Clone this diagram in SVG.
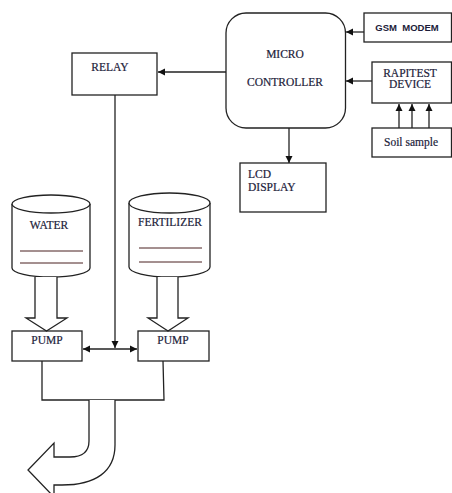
<svg xmlns="http://www.w3.org/2000/svg" width="452" height="493" viewBox="0 0 452 493">
<defs>
<marker id="ah" markerWidth="8" markerHeight="8" refX="7" refY="4" orient="auto" markerUnits="userSpaceOnUse">
<path d="M0,0.5 L7,4 L0,7.5 Z" fill="#111"/>
</marker>
<marker id="ahs" markerWidth="8" markerHeight="8" refX="1" refY="4" orient="auto" markerUnits="userSpaceOnUse">
<path d="M8,0.5 L1,4 L8,7.5 Z" fill="#111"/>
</marker>
</defs>
<style>
.box{fill:#fff;stroke:#222;stroke-width:1.3}
.ln{fill:none;stroke:#222;stroke-width:1.3}
.t{fill:#1c1c3a;font-size:11.5px;stroke:#1c1c3a;stroke-width:0.2}
.s{fill:#1c1c3a;font-size:9.5px;font-weight:bold}
.u{stroke:#4a2020;stroke-width:1}
</style>
<rect width="452" height="493" fill="#fff"/>
<g font-family="Liberation Serif, Times New Roman, serif">
<g id="controller">
<rect class="box" x="226" y="13" width="119.5" height="115" rx="20" ry="20"/>
<text class="t" x="285" y="58" text-anchor="middle">MICRO</text>
<text class="t" x="285" y="86" text-anchor="middle">CONTROLLER</text>
</g>
<g id="gsm">
<rect class="box" x="364" y="13" width="87.5" height="29"/>
<text class="s" font-family="Liberation Sans, Arial, sans-serif" x="407" y="31" text-anchor="middle" xml:space="preserve">GSM  MODEM</text>
</g>
<g id="rapitest">
<rect class="box" x="372" y="62" width="79.5" height="41"/>
<text class="t" x="410" y="77" text-anchor="middle">RAPITEST</text>
<text class="t" x="410" y="88" text-anchor="middle">DEVICE</text>
</g>
<g id="soil">
<rect class="box" x="372" y="128" width="79.5" height="29"/>
<text class="t" x="411" y="146" text-anchor="middle">Soil sample</text>
</g>
<g id="relay">
<rect class="box" x="72" y="53" width="85" height="42"/>
<text class="t" x="110" y="71" text-anchor="middle" font-size="12">RELAY</text>
</g>
<g id="lcd">
<rect class="box" x="240" y="163" width="86" height="49"/>
<text class="t" x="248" y="178" font-size="12">LCD</text>
<text class="t" x="248" y="191" font-size="12">DISPLAY</text>
</g>
<g id="water">
<path class="box" d="M12,204 V268 A39,9 0 0 0 90,268 V204"/>
<ellipse class="box" cx="51" cy="204" rx="39" ry="9"/>
<text class="t" x="49" y="229" text-anchor="middle">WATER</text>
<line class="u" x1="20" y1="251" x2="83" y2="251"/>
<line class="u" x1="20" y1="263" x2="83" y2="263"/>
</g>
<g id="fertilizer">
<path class="box" d="M129,203 V267 A40.5,10 0 0 0 210,267 V203"/>
<ellipse class="box" cx="169.5" cy="203" rx="40.5" ry="10"/>
<text class="t" x="170" y="226" text-anchor="middle">FERTILIZER</text>
<line class="u" x1="139" y1="248" x2="202" y2="248"/>
<line class="u" x1="139" y1="262" x2="202" y2="262"/>
</g>
<g id="pump1">
<rect class="box" x="12" y="331" width="70" height="30"/>
<text class="t" x="47" y="344" text-anchor="middle" font-size="11">PUMP</text>
</g>
<g id="pump2">
<rect class="box" x="138" y="331" width="71" height="30"/>
<text class="t" x="173" y="344" text-anchor="middle" font-size="11">PUMP</text>
</g>
</g>
<g id="connectors">
<line class="ln" x1="364" y1="32" x2="346" y2="32" marker-end="url(#ah)"/>
<line class="ln" x1="372" y1="81" x2="346" y2="81" marker-end="url(#ah)"/>
<line class="ln" x1="399" y1="128" x2="399" y2="104" marker-end="url(#ah)"/>
<line class="ln" x1="412" y1="128" x2="412" y2="104" marker-end="url(#ah)"/>
<line class="ln" x1="429" y1="128" x2="429" y2="104" marker-end="url(#ah)"/>
<line class="ln" x1="226" y1="72" x2="158" y2="72" marker-end="url(#ah)"/>
<line class="ln" x1="289" y1="128" x2="289" y2="163" marker-end="url(#ah)"/>
<line class="ln" x1="115" y1="95" x2="115" y2="348" marker-end="url(#ah)"/>
<line class="ln" x1="83" y1="349" x2="137" y2="349" marker-start="url(#ahs)" marker-end="url(#ah)"/>
<path class="box" d="M35,277 V318 H26 L46.5,331 L67,318 H57 V277"/>
<path class="box" d="M157,277 V318 H148 L168,331 L188,318 H178 V277"/>
<path class="ln" d="M42,361 V400 H164 L163,361"/>
<path class="box" d="M89,400 V441 Q89,457 70,457 H54 V443 L28,470 L53,496 H54 V485 H62 C95,485 115,472 115,445 V400"/>
</g>
</svg>
